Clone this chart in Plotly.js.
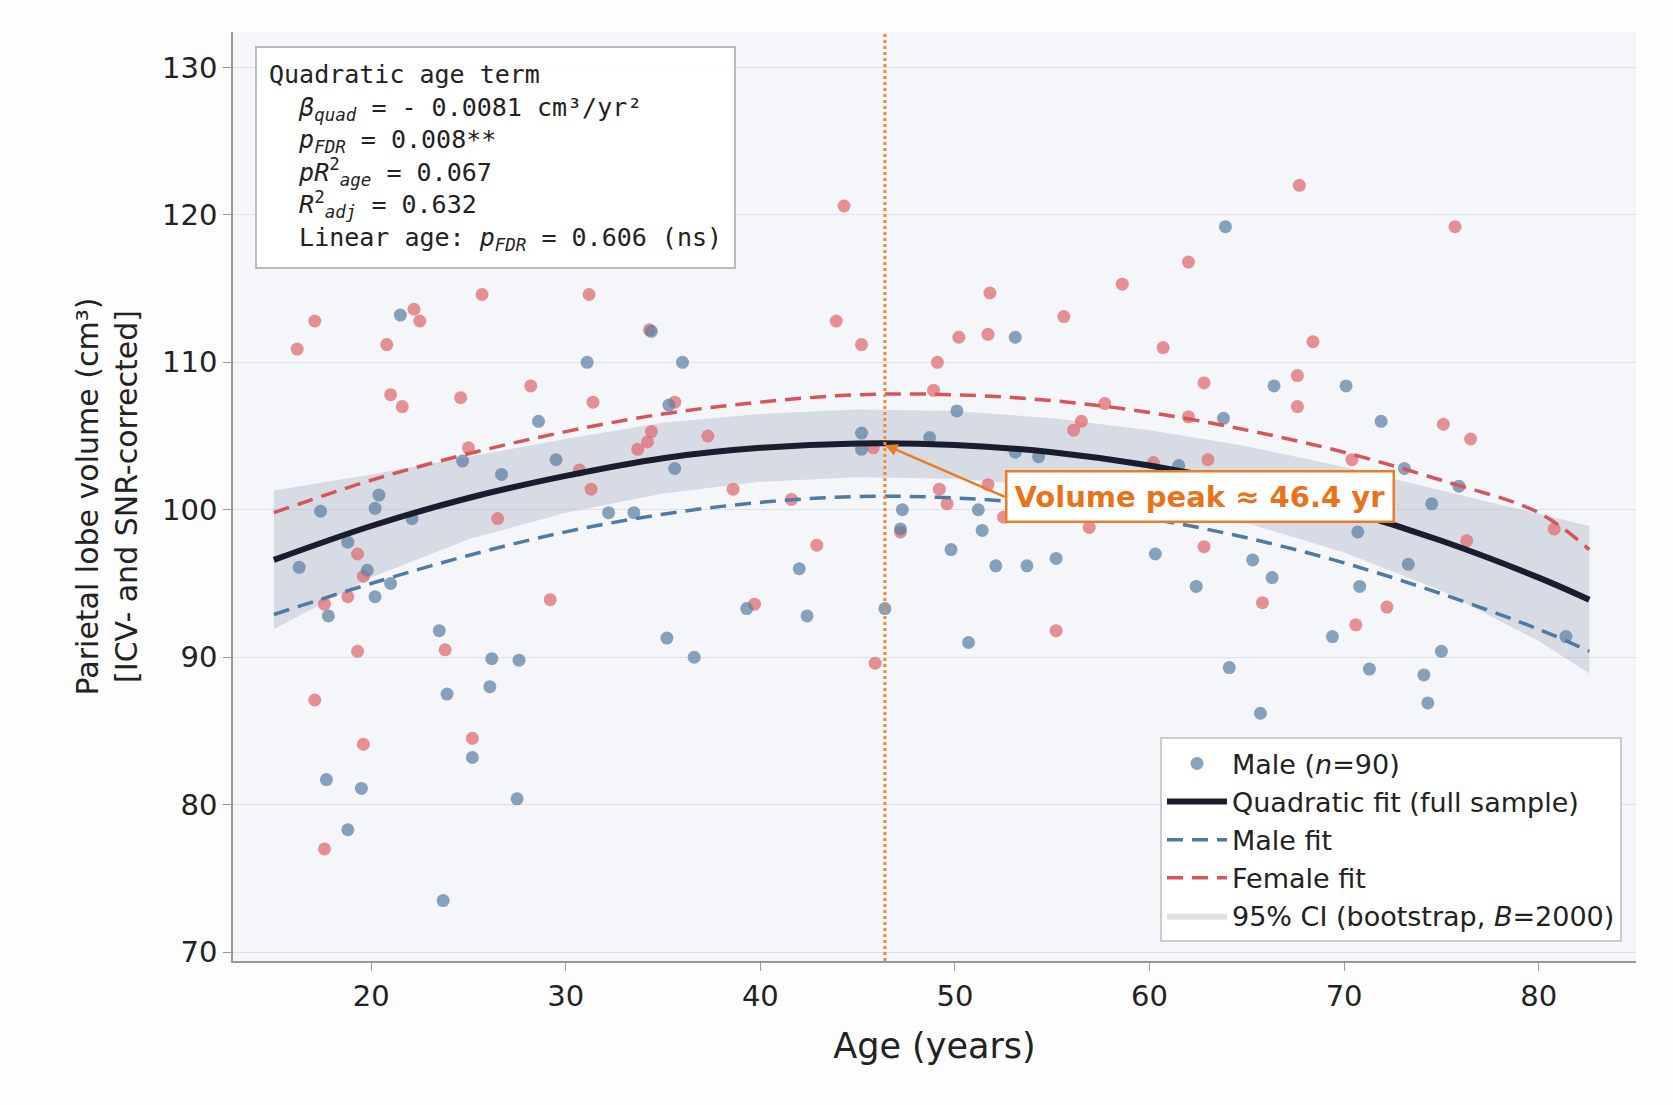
<!DOCTYPE html>
<html><head><meta charset="utf-8">
<script src="https://cdn.plot.ly/plotly-3.0.1.min.js"></script>
<style>body{margin:0;background:#fff}</style>
</head><body>
<div id="plot" style="width:1673px;height:1105px"></div>
<script>
const maleAge = [16.3,17.4,17.8,17.7,18.8,18.8,19.5,19.8,20.2,20.2,20.4,21.0,21.5,22.1,23.5,23.9,23.7,24.7,25.2,26.1,26.2,26.7,27.5,27.6,28.6,29.5,31.1,32.2,33.5,34.4,35.2,35.3,35.6,36.0,36.6,39.3,42.0,42.4,45.2,45.2,46.4,47.2,47.3,48.7,49.8,50.1,50.7,51.2,51.4,52.1,53.1,53.1,53.7,54.3,55.2,60.3,61.5,62.4,63.8,63.9,64.1,65.3,65.7,66.3,66.4,69.4,70.1,70.7,70.8,71.3,71.9,73.1,73.3,74.1,74.3,74.5,75.0,75.9,81.4];
const maleVol = [96.1,99.9,92.8,81.7,97.8,78.3,81.1,95.9,100.1,94.1,101.0,95.0,113.2,99.4,91.8,87.5,73.5,103.3,83.2,88.0,89.9,102.4,80.4,89.8,106.0,103.4,110.0,99.8,99.8,112.1,91.3,107.1,102.8,110.0,90.0,93.3,96.0,92.8,105.2,104.1,93.3,98.7,100.0,104.9,97.3,106.7,91.0,100.0,98.6,96.2,111.7,103.9,96.2,103.6,96.7,97.0,103.0,94.8,106.2,119.2,89.3,96.6,86.2,95.4,108.4,91.4,108.4,98.5,94.8,89.2,106.0,102.8,96.3,88.8,86.9,100.4,90.4,101.6,91.4];
const femaleAge = [16.2,17.1,17.1,17.6,17.6,18.8,19.3,19.3,19.6,19.6,20.8,21.0,21.6,22.2,22.5,23.8,24.6,25.0,25.2,25.7,26.5,28.2,29.2,30.7,31.2,31.3,31.4,33.7,34.2,34.3,34.4,35.6,37.3,38.6,39.7,41.6,42.9,43.9,44.3,45.2,45.8,45.9,47.2,48.9,49.1,49.2,49.6,50.2,51.7,51.8,51.7,52.5,55.6,55.2,56.1,56.5,56.9,57.7,58.6,60.2,60.7,62.0,62.0,62.8,62.8,63.0,65.8,67.6,67.6,67.7,68.4,70.4,70.6,72.2,75.1,75.7,76.3,76.5,80.8];
const femaleVol = [110.9,112.8,87.1,93.6,77.0,94.1,97.0,90.4,95.5,84.1,111.2,107.8,107.0,113.6,112.8,90.5,107.6,104.2,84.5,114.6,99.4,108.4,93.9,102.7,114.6,101.4,107.3,104.1,104.6,112.2,105.3,107.3,105.0,101.4,93.6,100.7,97.6,112.8,120.6,111.2,104.2,89.6,98.5,108.1,110.0,101.4,100.4,111.7,111.9,114.7,101.7,99.5,113.1,91.8,105.4,106.0,98.8,107.2,115.3,103.2,111.0,116.8,106.3,108.6,97.5,103.4,93.7,109.1,107.0,122.0,111.4,103.4,92.2,93.4,105.8,119.2,97.9,104.8,98.7];

const fitAge = [15,20,25,30,35,40,45,50,55,60,65,70,75,80,82.6];
const fitFull = [96.6,98.9,100.8,102.3,103.5,104.2,104.5,104.4,103.9,103.0,101.7,100.0,97.9,95.4,93.9];
const fitFemale = [99.8,102.0,103.8,105.3,106.5,107.3,107.8,107.8,107.4,106.6,105.4,103.9,102.0,99.8,97.3];
const fitMale = [92.9,95.0,96.9,98.5,99.7,100.5,100.9,100.8,100.3,99.4,98.1,96.4,94.3,91.9,90.4];
const ciUpper = [101.3,102.4,103.6,104.8,105.9,106.5,106.8,106.7,106.2,105.4,104.3,102.9,101.3,99.7,98.9];
const ciLower = [91.9,95.4,98.0,99.8,101.1,101.9,102.2,102.1,101.6,100.6,99.1,97.1,94.5,91.1,88.9];
const peakAge = 46.4;

const F = "DejaVu Sans, sans-serif";
const traces = [
  {x: fitAge, y: ciLower, mode: "lines", line: {width: 0}, showlegend: false, hoverinfo: "skip"},
  {x: fitAge, y: ciUpper, mode: "lines", line: {width: 0}, fill: "tonexty", fillcolor: "rgba(160,170,185,0.35)",
   name: "95% CI (bootstrap, <i>B</i>=2000)", legendrank: 5},
  {x: femaleAge, y: femaleVol, mode: "markers", marker: {size: 13, color: "rgba(224,108,115,0.75)"}, showlegend: false},
  {x: maleAge, y: maleVol, mode: "markers", marker: {size: 13, color: "rgba(91,127,163,0.72)"},
   name: "Male (<i>n</i>=90)", legendrank: 1},
  {x: fitAge, y: fitMale, mode: "lines", line: {color: "#4f7aa3", width: 3.5, dash: "16px,9px", shape: "spline"}, name: "Male fit", legendrank: 3},
  {x: fitAge, y: fitFemale, mode: "lines", line: {color: "#d9535a", width: 3.5, dash: "16px,9px", shape: "spline"}, name: "Female fit", legendrank: 4},
  {x: fitAge, y: fitFull, mode: "lines", line: {color: "#1a1d2e", width: 6, shape: "spline"}, name: "Quadratic fit (full sample)", legendrank: 2}
];

const boxText = "Quadratic age term<br>" +
  "  <i>β</i><sub><i>quad</i></sub> = - 0.0081 cm³/yr²<br>" +
  "  <i>p</i><sub><i>FDR</i></sub> = 0.008**<br>" +
  "  <i>pR</i><sup>2</sup><sub><i>age</i></sub> = 0.067<br>" +
  "  <i>R</i><sup>2</sup><sub><i>adj</i></sub> = 0.632<br>" +
  "  Linear age: <i>p</i><sub><i>FDR</i></sub> = 0.606 (ns)";

const layout = {
  width: 1673, height: 1105,
  margin: {l: 233, r: 37, t: 32, b: 144},
  paper_bgcolor: "#fdfdfd", plot_bgcolor: "#f4f6f9",
  font: {family: F, size: 28, color: "#222"},
  xaxis: {range: [12.9, 85], tickvals: [20,30,40,50,60,70,80], showgrid: false, zeroline: false,
    showline: true, linecolor: "#999", linewidth: 1.5, ticks: "outside", ticklen: 8, tickcolor: "#999",
    tickfont: {size: 29}, title: {text: "Age (years)", font: {size: 35}, standoff: 22}},
  yaxis: {range: [69.4, 132.4], tickvals: [70,80,90,100,110,120,130], gridcolor: "#dde2ea", gridwidth: 1.2, zeroline: false,
    showline: true, linecolor: "#999", linewidth: 1.5, ticks: "outside", ticklen: 8, tickcolor: "#999",
    tickfont: {size: 29}, title: {text: "Parietal lobe volume (cm³)<br>[ICV- and SNR-corrected]", font: {size: 30}, standoff: 16}},
  shapes: [{type: "line", xref: "x", yref: "paper", x0: peakAge, x1: peakAge, y0: 0, y1: 1,
    line: {color: "#ee8a2f", width: 3, dash: "dot"}}],
  annotations: [
    {xref: "paper", yref: "paper", x: 0.016, y: 0.985, xanchor: "left", yanchor: "top", align: "left",
     text: boxText, showarrow: false, font: {family: "DejaVu Sans Mono, monospace", size: 25, color: "#222"},
     bgcolor: "rgba(255,255,255,0.92)", bordercolor: "#bbb", borderwidth: 2, borderpad: 12},
    {x: peakAge, y: 104.4, ax: 120, ay: 52, text: "<b>Volume peak ≈ 46.4 yr</b>", showarrow: true,
     arrowhead: 2, arrowcolor: "#ea7c27", arrowwidth: 2.5, xanchor: "left",
     font: {size: 29, color: "#e8731c"}, bgcolor: "#fff", bordercolor: "#ea7c27", borderwidth: 2.5, borderpad: 7}
  ],
  legend: {x: 0.99, y: 0.02, xanchor: "right", yanchor: "bottom", bgcolor: "rgba(255,255,255,0.95)",
    bordercolor: "#ccc", borderwidth: 2, font: {size: 27}, traceorder: "normal", itemwidth: 60},
  showlegend: true
};
Plotly.newPlot("plot", traces, layout, {displayModeBar: false});
</script>
</body></html>
